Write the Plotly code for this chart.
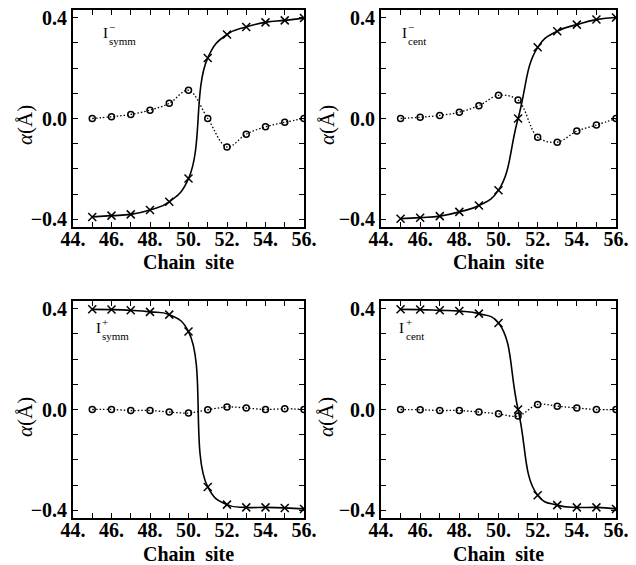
import plotly.graph_objects as go
from plotly.subplots import make_subplots

sites = [45, 46, 47, 48, 49, 50, 51, 52, 53, 54, 55, 56]

# crosses (solid) and circles (dotted) for each configuration
symm_minus_x = [-0.39, -0.385, -0.38, -0.363, -0.33, -0.238, 0.24, 0.333, 0.363, 0.381, 0.389, 0.398]
symm_minus_o = [0.0, 0.007, 0.016, 0.033, 0.06, 0.112, 0.0, -0.113, -0.062, -0.033, -0.015, 0.0]
cent_minus_x = [-0.397, -0.393, -0.387, -0.37, -0.345, -0.284, 0.0, 0.282, 0.346, 0.372, 0.392, 0.40]
cent_minus_o = [0.0, 0.005, 0.012, 0.025, 0.051, 0.092, 0.073, -0.074, -0.094, -0.05, -0.026, 0.0]
symm_plus_x = [0.397, 0.396, 0.393, 0.387, 0.376, 0.309, -0.307, -0.377, -0.388, -0.388, -0.39, -0.394]
symm_plus_o = [0.0, 0.0, -0.004, -0.004, -0.01, -0.014, -0.001, 0.01, 0.006, 0.0, 0.003, 0.0]
cent_plus_x = [0.397, 0.396, 0.393, 0.39, 0.38, 0.343, 0.0, -0.34, -0.379, -0.388, -0.388, -0.394]
cent_plus_o = [0.0, -0.001, -0.004, -0.004, -0.01, -0.017, -0.026, 0.02, 0.013, 0.006, 0.0, 0.0]

x_tickvals = [44, 45, 46, 47, 48, 49, 50, 51, 52, 53, 54, 55, 56]
x_ticktext = ["44.", "", "46.", "", "48.", "", "50.", "", "52.", "", "54.", "", "56."]
y_tickvals = [-0.4, -0.3, -0.2, -0.1, 0.0, 0.1, 0.2, 0.3, 0.4]
y_ticktext = ["\u22120.4", "", "", "", "0.0", "", "", "", "0.4"]

panels = [
    (1, 1, symm_minus_x, symm_minus_o, "symm", "\u2212"),
    (1, 2, cent_minus_x, cent_minus_o, "cent", "\u2212"),
    (2, 1, symm_plus_x, symm_plus_o, "symm", "+"),
    (2, 2, cent_plus_x, cent_plus_o, "cent", "+"),
]

# the page body adds an 8px offset, so the figure is 628x557
W, H, OFF = 628, 557, 8


def px(p):
    return (p - OFF) / W


def py(p):
    return 1 - (p - OFF) / H


fig = make_subplots(rows=2, cols=2)

for row, col, xs, os_, sub, sign in panels:
    fig.add_trace(go.Scatter(x=sites, y=xs, mode="lines+markers",
                             line=dict(color="black", width=1.6, shape="spline", smoothing=1.3),
                             marker=dict(symbol="x-thin", size=8,
                                         line=dict(color="black", width=1.5)),
                             showlegend=False), row=row, col=col)
    fig.add_trace(go.Scatter(x=sites, y=os_, mode="lines+markers",
                             line=dict(color="black", width=1.3, dash="1.5px,2px", shape="spline"),
                             marker=dict(symbol="circle-open", size=6, color="black",
                                         line=dict(color="black", width=1.5)),
                             showlegend=False), row=row, col=col)

tick_font = dict(family="Liberation Serif", size=20, color="black", weight="bold")
fig.update_xaxes(range=[44, 56], tickmode="array", tickvals=x_tickvals, ticktext=x_ticktext,
                 ticks="inside", ticklen=5, tickwidth=1.3, tickcolor="black",
                 showline=True, linecolor="black", linewidth=1.8, mirror="ticks",
                 showgrid=False, zeroline=False, automargin=False,
                 ticklabeloverflow="allow", ticklabelstandoff=-7, tickfont=tick_font)
fig.update_yaxes(range=[-0.43, 0.43], tickmode="array", tickvals=y_tickvals, ticktext=y_ticktext,
                 ticks="inside", ticklen=5, tickwidth=1.3, tickcolor="black",
                 showline=True, linecolor="black", linewidth=1.8, mirror="ticks",
                 showgrid=False, zeroline=False, automargin=False,
                 ticklabeloverflow="allow", tickfont=tick_font)

# panel placement in page pixels
left_dom = [px(73), px(304)]
right_dom = [px(381), px(616)]
top_dom = [py(227), py(10)]
bot_dom = [py(518), py(301)]
fig.update_layout(
    xaxis=dict(domain=left_dom), yaxis=dict(domain=top_dom),
    xaxis2=dict(domain=right_dom), yaxis2=dict(domain=top_dom),
    xaxis3=dict(domain=left_dom), yaxis3=dict(domain=bot_dom),
    xaxis4=dict(domain=right_dom), yaxis4=dict(domain=bot_dom),
)

annots = []
title_font = dict(family="Liberation Serif", size=20, color="black", weight="bold")
for cx, cy in [(188.5, 262), (498.5, 262), (188.5, 554), (498.5, 554)]:
    annots.append(dict(x=px(cx), y=py(cy), xref="paper", yref="paper",
                       xanchor="center", yanchor="middle",
                       text="Chain\u00a0 site", showarrow=False, font=title_font))
for tx, ty in [(25, 125), (327, 125), (25, 417), (326, 417)]:
    annots.append(dict(x=px(tx), y=py(ty), xref="paper", yref="paper",
                       xanchor="center", yanchor="middle",
                       text="<i>\u03b1</i>(\u00c5)", textangle=-90, showarrow=False,
                       font=dict(family="Liberation Serif", size=21, color="black")))

# panel labels: "I" with the sign stacked over the subscript
label_pos = [(45.5, 0.337), (45.0, 0.337), (45.15, 0.322), (44.87, 0.322)]
for i, ((row, col, xs, os_, sub, sign), (lx, ly)) in enumerate(zip(panels, label_pos)):
    xr = "x" if i == 0 else "x%d" % (i + 1)
    yr = "y" if i == 0 else "y%d" % (i + 1)
    annots.append(dict(x=lx, y=ly, xref=xr, yref=yr, text="I", showarrow=False,
                       xanchor="left", yanchor="middle", borderpad=0,
                       font=dict(family="Liberation Serif", size=15, color="black")))
    annots.append(dict(x=lx + 0.33, y=ly - 0.004, xref=xr, yref=yr,
                       text=sign + "<br>" + sub, showarrow=False, align="left",
                       xanchor="left", yanchor="middle", borderpad=0,
                       font=dict(family="Liberation Serif", size=11, color="black")))

fig.update_layout(
    width=W, height=H,
    margin=dict(l=0, r=0, t=0, b=0, autoexpand=False),
    paper_bgcolor="white", plot_bgcolor="white",
    annotations=annots,
    font=dict(family="Liberation Serif", color="black"),
)

fig.write_html("out.html")
